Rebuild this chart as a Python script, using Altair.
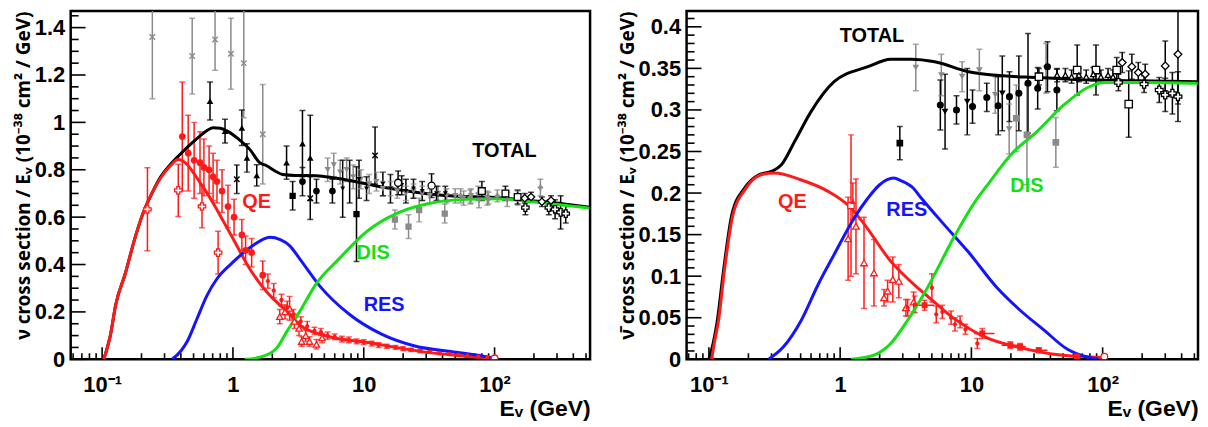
import math
import altair as alt
import pandas as pd

FONT = "Liberation Sans"
TITLE_FONT = "Noto Sans"
RED = "#ff1a1a"
BLUE = "#1414ff"
GREEN = "#14e014"
BLACK = "#000000"
GRAY = "#8a8a8a"

# ---------------- axis ticks / labels ----------------
X_MAJOR = [0.1, 1, 10, 100]
X_LABELS = ["10⁻¹", "1", "10", "10²"]
X_MINOR = [0.06, 0.07, 0.08, 0.09, 0.2, 0.3, 0.4, 0.5, 0.6, 0.7, 0.8, 0.9,
           2, 3, 4, 5, 6, 7, 8, 9, 20, 30, 40, 50, 60, 70, 80, 90, 200, 300, 400, 500]
L_Y_MAJOR = [0, 0.2, 0.4, 0.6, 0.8, 1, 1.2, 1.4]
L_Y_MINOR = [0.05, 0.1, 0.15, 0.25, 0.3, 0.35, 0.45, 0.5, 0.55, 0.65, 0.7, 0.75,
             0.85, 0.9, 0.95, 1.05, 1.1, 1.15, 1.25, 1.3, 1.35, 1.45]
R_Y_MAJOR = [0, 0.05, 0.1, 0.15, 0.2, 0.25, 0.3, 0.35, 0.4]
R_Y_MINOR = [0.01, 0.02, 0.03, 0.04, 0.06, 0.07, 0.08, 0.09, 0.11, 0.12, 0.13, 0.14,
             0.16, 0.17, 0.18, 0.19, 0.21, 0.22, 0.23, 0.24, 0.26, 0.27, 0.28, 0.29,
             0.31, 0.32, 0.33, 0.34, 0.36, 0.37, 0.38, 0.39, 0.41]

L_XDOM = [0.0575, 537]
R_XDOM = [0.0676, 533]
L_YDOM = [0, 1.47]
R_YDOM = [0, 0.419]

# ---------------- neutrino curves ----------------
NU_TOTAL_E = [0.103, 0.116, 0.127, 0.15, 0.18, 0.21, 0.24, 0.28, 0.33, 0.39, 0.48, 0.561, 0.63, 0.705,
              0.80, 0.90, 1.1, 1.35, 1.6, 1.81, 2.1, 2.4, 3.0, 4.35, 6.0, 7.75, 13.8, 25, 45, 100, 200, 350, 530]
NU_TOTAL_S = [0, 0.105, 0.23, 0.36, 0.52, 0.63, 0.70, 0.77, 0.82, 0.862, 0.91, 0.943, 0.965, 0.977,
              0.975, 0.964, 0.93, 0.885, 0.83, 0.817, 0.795, 0.78, 0.776, 0.775, 0.765, 0.755, 0.727, 0.705,
              0.69, 0.683, 0.668, 0.655, 0.642]
NU_QE_E = [0.103, 0.116, 0.127, 0.15, 0.18, 0.21, 0.24, 0.28, 0.33, 0.382, 0.45, 0.51, 0.561, 0.62, 0.705,
           0.85, 1.0, 1.35, 1.81, 2.71, 3.23, 4.35, 6.0, 10.4, 20, 33, 60, 98]
NU_QE_S = [0, 0.105, 0.23, 0.36, 0.52, 0.63, 0.70, 0.765, 0.815, 0.843, 0.82, 0.78, 0.746, 0.71, 0.66,
           0.58, 0.51, 0.38, 0.285, 0.19, 0.145, 0.11, 0.09, 0.072, 0.045, 0.027, 0.013, 0.005]
NU_RES_E = [0.343, 0.40, 0.447, 0.53, 0.634, 0.755, 1.0, 1.42, 1.91, 2.3, 2.71, 3.23, 4.6, 7.75, 13.8,
            25, 44.6, 75, 98]
NU_RES_S = [0, 0.035, 0.075, 0.17, 0.27, 0.34, 0.41, 0.48, 0.515, 0.505, 0.48, 0.425, 0.31, 0.19, 0.105,
            0.055, 0.034, 0.017, 0.004]
NU_DIS_E = [1.23, 1.5, 1.69, 2.16, 2.6, 3.23, 4.35, 6.5, 10.4, 18.6, 33, 60, 100, 200, 530]
NU_DIS_S = [0, 0.005, 0.012, 0.047, 0.12, 0.2, 0.32, 0.425, 0.537, 0.62, 0.66, 0.675, 0.678, 0.664, 0.638]

# ---------------- antineutrino curves ----------------
NB_TOTAL_E = [0.1, 0.108, 0.115, 0.13, 0.15, 0.187, 0.24, 0.3, 0.357, 0.45, 0.6, 0.9, 1.63, 2.43, 3.45,
              5.25, 9.5, 17.5, 31.6, 57, 190, 530]
NB_TOTAL_S = [0, 0.02, 0.043, 0.11, 0.175, 0.206, 0.222, 0.226, 0.234, 0.262, 0.298, 0.334, 0.352, 0.361,
              0.361, 0.358, 0.346, 0.341, 0.339, 0.337, 0.335, 0.334]
NB_QE_E = [0.105, 0.11, 0.118, 0.132, 0.152, 0.19, 0.25, 0.316, 0.5, 0.81, 1.21, 1.52, 2.43, 2.9, 3.9,
           4.4, 7.1, 13, 23.5, 42.5, 103]
NB_QE_S = [0, 0.02, 0.045, 0.11, 0.173, 0.205, 0.222, 0.224, 0.216, 0.202, 0.182, 0.163, 0.118, 0.105,
           0.086, 0.079, 0.051, 0.026, 0.014, 0.006, 0.002]
NB_RES_E = [0.285, 0.37, 0.506, 0.68, 0.9, 1.28, 1.63, 2.0, 2.56, 2.9, 3.6, 4.1, 6.2, 9.5, 15.5, 23.5,
            35.8, 54, 75, 93]
NB_RES_S = [0, 0.015, 0.047, 0.09, 0.126, 0.17, 0.194, 0.21, 0.218, 0.215, 0.206, 0.195, 0.162, 0.129,
            0.087, 0.059, 0.035, 0.012, 0.003, 0]
NB_DIS_E = [1.21, 1.81, 2.43, 3.27, 4.4, 7.56, 10.7, 13, 20.8, 31.6, 50.6, 77, 103, 200, 530]
NB_DIS_S = [0, 0.005, 0.019, 0.047, 0.08, 0.15, 0.19, 0.208, 0.249, 0.274, 0.306, 0.327, 0.333, 0.333, 0.332]

# ---------------- neutrino data points (E, value, error) ----------------
L_RC_E = [0.41, 0.455, 0.505, 0.56, 0.60, 0.657, 0.705, 0.755, 0.825, 0.916, 1.02, 1.17, 1.25, 1.39, 1.69]
L_RC_S = [0.94, 0.87, 0.84, 0.83, 0.81, 0.80, 0.77, 0.75, 0.71, 0.645, 0.60, 0.525, 0.46, 0.45, 0.355]
L_RC_D = [0.23, 0.16, 0.16, 0.13, 0.12, 0.10, 0.10, 0.09, 0.09, 0.09, 0.075, 0.065, 0.06, 0.06, 0.06]
L_RP_E = [0.222, 0.382, 0.58, 0.77]
L_RP_S = [0.633, 0.713, 0.645, 0.45]
L_RP_D = [0.175, 0.11, 0.09, 0.09]
L_RT_E = [2.28, 2.5, 2.71, 2.95, 3.2, 3.35, 3.6, 3.85, 4.35, 4.8]
L_RT_S = [0.18, 0.2, 0.215, 0.16, 0.13, 0.075, 0.1, 0.075, 0.063, 0.09]
L_RT_D = [0.03, 0.03, 0.05, 0.03, 0.03, 0.02, 0.025, 0.02, 0.02, 0.02]
L_RS_E = [1.85, 2.05, 2.35, 2.6, 2.9, 3.3, 3.7, 4.2, 4.7, 5.3, 6.0, 6.8, 7.7, 8.8, 10, 11.5, 13, 15, 17.5,
          20, 23, 27, 32, 38, 45, 53, 62, 75, 88]
L_RS_S = [0.33, 0.29, 0.25, 0.22, 0.19, 0.16, 0.14, 0.12, 0.115, 0.1, 0.095, 0.085, 0.082, 0.076, 0.072,
          0.066, 0.06, 0.055, 0.05, 0.045, 0.04, 0.035, 0.031, 0.026, 0.022, 0.019, 0.015, 0.012, 0.009]
L_RS_D = [0.03, 0.03, 0.025, 0.025, 0.02, 0.02, 0.02, 0.015, 0.015, 0.015, 0.012, 0.012, 0.012, 0.01, 0.01,
          0.01, 0.01, 0.008, 0.008, 0.008, 0.007, 0.007, 0.006, 0.006, 0.005, 0.005, 0.004, 0.004, 0.004]
L_RO_E = [100]
L_RO_S = [0.004]
L_RO_D = [0]
L_BT_E = [0.668, 0.87, 1.17, 1.28, 1.52, 2.57, 3.4, 3.9]
L_BT_S = [1.09, 0.963, 0.977, 0.85, 0.776, 0.83, 0.91, 0.85]
L_BT_D = [0.08, 0.05, 0.075, 0.06, 0.045, 0.07, 0.14, 0.18]
L_BX_E = [1.07, 3.9, 12.2]
L_BX_S = [0.76, 0.68, 0.86]
L_BX_D = [0.06, 0.09, 0.12]
L_BS_E = [2.86, 8.8]
L_BS_S = [0.69, 0.613]
L_BS_D = [0.06, 0.2]
L_BC_E = [3.4, 4.35, 5.76]
L_BC_S = [0.75, 0.71, 0.71]
L_BC_D = [0.06, 0.05, 0.05]
L_BD_E = [6.9, 7.8, 9.2, 10.5, 14, 16, 19.5, 21, 24, 28, 36, 42]
L_BD_S = [0.72, 0.75, 0.76, 0.72, 0.74, 0.72, 0.735, 0.71, 0.72, 0.71, 0.70, 0.70]
L_BD_D = [0.12, 0.09, 0.08, 0.05, 0.05, 0.06, 0.04, 0.05, 0.04, 0.04, 0.03, 0.03]
L_BO_E = [18.3, 33]
L_BO_S = [0.745, 0.733]
L_BO_D = [0.05, 0.05]
L_GX_E = [0.242, 0.488, 0.73, 0.965, 1.21, 1.69]
L_GX_S = [1.36, 1.28, 1.35, 1.29, 1.25, 0.95]
L_GX_D = [0.26, 0.16, 0.13, 0.15, 0.23, 0.21]
L_GD_E = [5.3, 5.9, 6.6, 7.4, 8.3, 9.5, 11, 12.5, 14, 16, 18, 21, 24, 28, 32, 37, 43, 50, 58, 66, 76, 88]
L_GD_S = [0.80, 0.82, 0.79, 0.80, 0.77, 0.76, 0.74, 0.75, 0.72, 0.72, 0.71, 0.70, 0.71, 0.70, 0.69, 0.70,
          0.69, 0.69, 0.68, 0.69, 0.67, 0.68]
L_GD_D = [0.05, 0.05, 0.05, 0.05, 0.05, 0.04, 0.04, 0.04, 0.03, 0.03, 0.03, 0.03, 0.03, 0.03, 0.03, 0.03,
          0.03, 0.03, 0.03, 0.03, 0.03, 0.03]
L_GS_E = [17.3, 22, 26.5, 41.6]
L_GS_S = [0.59, 0.56, 0.63, 0.615]
L_GS_D = [0.04, 0.05, 0.05, 0.04]
L_GP_E = [55, 65, 75, 90, 105, 125, 150, 224]
L_GP_S = [0.69, 0.685, 0.70, 0.68, 0.69, 0.675, 0.68, 0.725]
L_GP_D = [0.03, 0.03, 0.03, 0.025, 0.025, 0.03, 0.03, 0.035]
L_BQ_E = [80, 121, 150]
L_BQ_S = [0.71, 0.70, 0.685]
L_BQ_D = [0.04, 0.03, 0.03]
L_BI_E = [170, 190, 230, 270]
L_BI_S = [0.68, 0.685, 0.665, 0.67]
L_BI_D = [0.02, 0.02, 0.02, 0.02]
L_BP_E = [172, 260, 290, 320, 350]
L_BP_S = [0.64, 0.64, 0.633, 0.62, 0.615]
L_BP_D = [0.03, 0.03, 0.04, 0.07, 0.04]

# ---------------- antineutrino data points ----------------
R_RT_E = [1.15, 1.32, 1.52, 1.81, 2.16, 2.3, 2.52, 2.8, 3.17, 3.63]
R_RT_S = [0.145, 0.16, 0.116, 0.104, 0.074, 0.082, 0.096, 0.094, 0.062, 0.069]
R_RT_D = [0.05, 0.057, 0.055, 0.04, 0.01, 0.013, 0.027, 0.02, 0.01, 0.012]
R_RQ_E = [1.21]
R_RQ_S = [0.185]
R_RQ_D = [0.085]
R_RF_E = [1.25]
R_RF_S = [0.19]
R_RF_D = [0.022]
R_RS_E = [3.27, 3.7, 5.0, 5.4, 6.0, 7.0, 7.5, 8.2, 9.0, 11.1]
R_RS_S = [0.062, 0.066, 0.086, 0.054, 0.057, 0.05, 0.042, 0.045, 0.036, 0.019]
R_RS_D = [0.01, 0.01, 0.017, 0.01, 0.008, 0.008, 0.008, 0.007, 0.006, 0.006]
R_RSQ_E = [4.4, 12.1, 19.8, 23.5, 32.6, 64]
R_RSQ_S = [0.065, 0.031, 0.017, 0.015, 0.011, 0.0035]
R_RSQ_D = [0.006, 0.006, 0.004, 0.004, 0.003, 0.003]
R_RSQ_XLO = [3.7, 10.5, 17, 21, 28, 55]
R_RSQ_XHI = [5.2, 15, 23, 26, 38, 75]
R_RO_E = [103]
R_RO_S = [0.003]
R_RO_D = [0]
R_BS_E = [2.85]
R_BS_S = [0.26]
R_BS_D = [0.02]
R_GD_E = [3.77, 5.9, 8.5, 11.5, 15.2, 19.4, 37]
R_GD_S = [0.351, 0.342, 0.34, 0.348, 0.318, 0.277, 0.35]
R_GD_D = [0.028, 0.025, 0.018, 0.025, 0.022, 0.03, 0.03]
R_BC_E = [5.8, 7.7, 10.2, 13.1, 16, 19.5, 23, 27, 32, 38, 44.8]
R_BC_S = [0.306, 0.30, 0.304, 0.315, 0.305, 0.316, 0.32, 0.332, 0.326, 0.352, 0.324]
R_BC_D = [0.03, 0.017, 0.02, 0.017, 0.035, 0.03, 0.045, 0.06, 0.025, 0.03, 0.025]
R_BD_E = [6.3, 9.3, 17.2]
R_BD_S = [0.298, 0.31, 0.32]
R_BD_D = [0.045, 0.04, 0.045]
R_GS_E = [22, 26.5, 44]
R_GS_S = [0.29, 0.27, 0.261]
R_GS_D = [0.04, 0.06, 0.03]
R_BQ_E = [32.7, 64, 89, 128, 158]
R_BQ_S = [0.34, 0.348, 0.348, 0.348, 0.307]
R_BQ_D = [0.01, 0.03, 0.03, 0.015, 0.04]
R_BI_E = [141, 167, 187, 211, 300, 375]
R_BI_S = [0.357, 0.352, 0.345, 0.343, 0.353, 0.367]
R_BI_D = [0.012, 0.015, 0.012, 0.012, 0.03, 0.06]
R_BP_E = [132, 207, 270, 300, 340, 375]
R_BP_S = [0.333, 0.331, 0.324, 0.318, 0.32, 0.316]
R_BP_D = [0.01, 0.01, 0.015, 0.02, 0.025, 0.03]
R_BT_E = [45, 52, 58, 66, 75, 85, 97, 110, 120]
R_BT_S = [0.342, 0.342, 0.34, 0.342, 0.34, 0.343, 0.34, 0.342, 0.34]
R_BT_D = [0.008, 0.008, 0.008, 0.008, 0.008, 0.008, 0.008, 0.008, 0.008]

# ---------------- annotations ----------------
TXT = ["TOTAL", "QE", "RES", "DIS"]
TXT_COL = [BLACK, RED, BLUE, GREEN]
L_TXT_E = [119, 1.52, 14.3, 11.8]
L_TXT_S = [0.88, 0.662, 0.23, 0.449]
R_TXT_E = [1.75, 0.433, 3.22, 26.5]
R_TXT_S = [0.389, 0.189, 0.179, 0.209]

THIN_X = "M-1,-1L1,1M-1,1L1,-1"
ASTER = "M0,-1L0,1M-1,0L1,0M-0.7,-0.7L0.7,0.7M-0.7,0.7L0.7,-0.7"

L_SERIES = [
    (L_RC_E, L_RC_S, L_RC_D, "circle", RED, "filled", 45),
    (L_RP_E, L_RP_S, L_RP_D, "cross", RED, "open", 55),
    (L_RT_E, L_RT_S, L_RT_D, "triangle-up", RED, "open", 40),
    (L_RS_E, L_RS_S, L_RS_D, ASTER, RED, "line", 18),
    (L_RO_E, L_RO_S, L_RO_D, "circle", RED, "open", 45),
    (L_GX_E, L_GX_S, L_GX_D, THIN_X, GRAY, "line", 30),
    (L_GD_E, L_GD_S, L_GD_D, "triangle-down", GRAY, "filled", 40),
    (L_GS_E, L_GS_S, L_GS_D, "square", GRAY, "filled", 40),
    (L_GP_E, L_GP_S, L_GP_D, "cross", GRAY, "filled", 30),
    (L_BT_E, L_BT_S, L_BT_D, "triangle-up", BLACK, "filled", 45),
    (L_BX_E, L_BX_S, L_BX_D, THIN_X, BLACK, "line", 30),
    (L_BS_E, L_BS_S, L_BS_D, "square", BLACK, "filled", 40),
    (L_BC_E, L_BC_S, L_BC_D, "circle", BLACK, "filled", 45),
    (L_BD_E, L_BD_S, L_BD_D, "triangle-down", BLACK, "filled", 25),
    (L_BO_E, L_BO_S, L_BO_D, "circle", BLACK, "open", 50),
    (L_BQ_E, L_BQ_S, L_BQ_D, "square", BLACK, "open", 45),
    (L_BI_E, L_BI_S, L_BI_D, "diamond", BLACK, "open", 55),
    (L_BP_E, L_BP_S, L_BP_D, "cross", BLACK, "open", 55),
]
R_SERIES = [
    (R_RT_E, R_RT_S, R_RT_D, "triangle-up", RED, "open", 45),
    (R_RQ_E, R_RQ_S, R_RQ_D, "square", RED, "open", 40),
    (R_RF_E, R_RF_S, R_RF_D, "triangle-up", RED, "filled", 35),
    (R_RS_E, R_RS_S, R_RS_D, ASTER, RED, "line", 18),
    (R_RSQ_E, R_RSQ_S, R_RSQ_D, "square", RED, "filled", 35),
    (R_RO_E, R_RO_S, R_RO_D, "circle", RED, "open", 45),
    (R_GD_E, R_GD_S, R_GD_D, "triangle-down", GRAY, "filled", 45),
    (R_GS_E, R_GS_S, R_GS_D, "square", GRAY, "filled", 45),
    (R_BS_E, R_BS_S, R_BS_D, "square", BLACK, "filled", 45),
    (R_BC_E, R_BC_S, R_BC_D, "circle", BLACK, "filled", 50),
    (R_BD_E, R_BD_S, R_BD_D, "triangle-down", BLACK, "filled", 45),
    (R_BQ_E, R_BQ_S, R_BQ_D, "square", BLACK, "open", 55),
    (R_BI_E, R_BI_S, R_BI_D, "diamond", BLACK, "open", 60),
    (R_BP_E, R_BP_S, R_BP_D, "cross", BLACK, "open", 60),
    (R_BT_E, R_BT_S, R_BT_D, "triangle-up", BLACK, "open", 30),
]
L_CURVES = [(NU_TOTAL_E, NU_TOTAL_S, BLACK), (NU_QE_E, NU_QE_S, RED),
            (NU_RES_E, NU_RES_S, BLUE), (NU_DIS_E, NU_DIS_S, GREEN)]
R_CURVES = [(NB_TOTAL_E, NB_TOTAL_S, BLACK), (NB_QE_E, NB_QE_S, RED),
            (NB_RES_E, NB_RES_S, BLUE), (NB_DIS_E, NB_DIS_S, GREEN)]


def label_expr(values, labels):
    expr = "''"
    for v, t in zip(values[::-1], labels[::-1]):
        expr = f"abs(log(datum.value) - log({v})) < 0.1 ? '{t}' : ({expr})"
    return expr


def panel(curves, series, txt_e, txt_s, xdom, ydom, W, H, ymaj, ymin, ytitle, hbars=None):
    xs = alt.Scale(type="log", domain=xdom, nice=False)
    ys = alt.Scale(domain=ydom, nice=False, zero=False)
    xaxis = alt.Axis(values=X_MAJOR, labelExpr=label_expr(X_MAJOR, X_LABELS), ticks=False, domain=False,
                     grid=False, labelFont=FONT, labelFontSize=22, labelFontWeight="bold", labelColor="black",
                     labelPadding=15, labelFlush=False,
                     title="E\u1d65 (GeV)", titleFont=FONT, titleFontSize=23, titleFontWeight="bold",
                     titleColor="black", titleAnchor="end", titlePadding=3)
    yaxis = alt.Axis(values=ymaj, format="~g", ticks=False, domain=False, grid=False, labelFont=FONT,
                     labelFontSize=22, labelFontWeight="bold", labelColor="black", labelPadding=6,
                     labelFlush=False, title=ytitle, titleFont=TITLE_FONT, titleFontSize=19,
                     titleFontWeight="bold", titleColor="black", titleAnchor="end", titlePadding=1)

    # every layer uses the same explicit axis so that the shared axis merges cleanly
    def X(f="E"):
        return alt.X(f"{f}:Q", scale=xs, axis=xaxis)

    def Y(f="s"):
        return alt.Y(f"{f}:Q", scale=ys, axis=yaxis)

    layers = []
    xmaj = pd.DataFrame({"E": [v for v in X_MAJOR if xdom[0] <= v <= xdom[1]]})
    xmin = pd.DataFrame({"E": [v for v in X_MINOR if xdom[0] <= v <= xdom[1]]})
    layers.append(alt.Chart(xmaj).mark_rule(color="black", strokeWidth=1.6).encode(
        x=X(), y=alt.value(H), y2=alt.value(H - 12)))
    layers.append(alt.Chart(xmin).mark_rule(color="black", strokeWidth=1.6).encode(
        x=X(), y=alt.value(H), y2=alt.value(H - 6)))
    layers.append(alt.Chart(pd.DataFrame({"s": ymaj})).mark_rule(color="black", strokeWidth=1.6).encode(
        y=Y(), x=alt.value(0), x2=alt.value(15)))
    layers.append(alt.Chart(pd.DataFrame({"s": ymin})).mark_rule(color="black", strokeWidth=1.6).encode(
        y=Y(), x=alt.value(0), x2=alt.value(8)))

    # error bars
    rows = []
    for E, S, D, shape, col, kind, size in series:
        for e, s, d in zip(E, S, D):
            if d > 0:
                rows.append({"E": e, "s": s, "lo": s - d, "hi": s + d, "c": col})
    err = pd.DataFrame(rows)
    layers.append(alt.Chart(err).mark_rule(strokeWidth=1.5, clip=True).encode(
        x=X(), y=Y("lo"), y2=alt.Y2("hi"), color=alt.Color("c:N", scale=None)))
    for f in ["lo", "hi"]:
        layers.append(alt.Chart(err).mark_tick(orient="horizontal", size=6, thickness=1.5, clip=True).encode(
            x=X(), y=Y(f), color=alt.Color("c:N", scale=None)))
    if hbars is not None:
        E, S, XLO, XHI, col = hbars
        hb = pd.DataFrame({"s": S, "xlo": XLO, "xhi": XHI})
        layers.append(alt.Chart(hb).mark_rule(strokeWidth=1.5, color=col, clip=True).encode(
            x=X("xlo"), x2=alt.X2("xhi"), y=Y()))

    for E, S, col in curves:
        layers.append(alt.Chart(pd.DataFrame({"E": E, "s": S})).mark_line(
            color=col, strokeWidth=3, interpolate="monotone", clip=True).encode(x=X(), y=Y()))

    for E, S, D, shape, col, kind, size in series:
        df = pd.DataFrame({"E": E, "s": S})
        if kind == "filled":
            m = alt.Chart(df).mark_point(shape=shape, filled=True, color=col, size=size, opacity=1, clip=True)
        elif kind == "open":
            m = alt.Chart(df).mark_point(shape=shape, filled=True, fill="white", stroke=col, strokeWidth=1.3,
                                         size=size, opacity=1, clip=True)
        else:
            m = alt.Chart(df).mark_point(shape=shape, filled=False, color=col, strokeWidth=1.4, size=size,
                                         opacity=1, clip=True)
        layers.append(m.encode(x=X(), y=Y()))

    tdf = pd.DataFrame({"E": txt_e, "s": txt_s, "t": TXT, "c": TXT_COL})
    layers.append(alt.Chart(tdf).mark_text(font=FONT, fontSize=20, fontWeight="bold", align="center",
                                           baseline="middle").encode(
        x=X(), y=Y(), text="t:N", color=alt.Color("c:N", scale=None)))

    return alt.layer(*layers).properties(width=W, height=H)


left = panel(L_CURVES, L_SERIES, L_TXT_E, L_TXT_S, L_XDOM, L_YDOM, 522, 350, L_Y_MAJOR, L_Y_MINOR,
             "\u03bd cross section / E\u1d65 (10\u207b\u00b3\u2078 cm\u00b2 / GeV)")
right = panel(R_CURVES, R_SERIES, R_TXT_E, R_TXT_S, R_XDOM, R_YDOM, 514, 350, R_Y_MAJOR, R_Y_MINOR,
              "\u03bd\u0304 cross section / E\u1d65 (10\u207b\u00b3\u2078 cm\u00b2 / GeV)",
              hbars=(R_RSQ_E, R_RSQ_S, R_RSQ_XLO, R_RSQ_XHI, RED))

chart = alt.hconcat(left, right, spacing=24).properties(
    padding={"left": 5, "top": 0, "right": 0, "bottom": 0}, background="white"
).configure_view(stroke="black", strokeWidth=2.5)

chart.save("out.html", embed_options={"renderer": "svg", "actions": False})
